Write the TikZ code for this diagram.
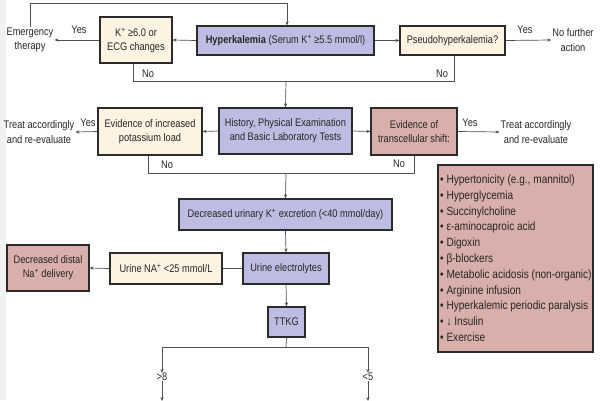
\documentclass[tikz,border=0pt]{standalone}
\usepackage{fontspec}
\setmainfont[FakeStretch=0.84]{Liberation Sans}
\newfontfamily\listfont[FakeStretch=0.84]{Liberation Sans}
\usetikzlibrary{arrows.meta}
\definecolor{bluebox}{HTML}{BDBDE3}
\definecolor{pinkbox}{HTML}{D9AFAB}
\definecolor{creambox}{HTML}{FCF3E3}
\definecolor{edge}{HTML}{2B2B2B}
\definecolor{conn}{HTML}{505050}
\tikzset{
  box/.style={draw=edge, line width=1.1pt, align=center, inner sep=1pt, font=\fontsize{11}{14}\selectfont, text=black!85},
  bluenode/.style={box, fill=bluebox},
  pinknode/.style={box, fill=pinkbox},
  creamnode/.style={box, fill=creambox},
  txt/.style={align=center, inner sep=1pt, font=\fontsize{11}{14.5}\selectfont, text=black!85},
  lbl/.style={inner sep=0pt, font=\fontsize{11}{13}\selectfont, text=black!85},
  itemtxt/.style={anchor=base west, inner sep=0pt, font=\listfont\fontsize{12}{15}\selectfont, text=black!85},
  arr/.style={draw=conn, line width=0.7pt, -{Stealth[length=4pt,width=3.2pt]}},
  ln/.style={draw=conn, line width=0.7pt}
}
\begin{document}
\begin{tikzpicture}[x=1pt,y=-1pt]
\useasboundingbox (0,0) rectangle (600,400);
\fill[black!5] (0,0) rectangle (6,400);
% row 1
\node[bluenode, minimum width=177pt, minimum height=29pt] (hyp) at (285.5,40.5) {\textbf{Hyperkalemia} (Serum K\textsuperscript{+} ≥5.5 mmol/l)};
\node[creamnode, minimum width=72pt, minimum height=46pt] (kecg) at (136,40) {K\textsuperscript{+} ≥6.0 or\\ECG changes};
\node[creamnode, minimum width=105pt, minimum height=29pt] (pseudo) at (452.5,40.5) {Pseudohyperkalemia?};
\node[txt] (emerg) at (30,40) {Emergency\\therapy};
\node[txt] (nofur) at (573,40) {No further\\action};
% row 2
\node[bluenode, minimum width=133pt, minimum height=46pt] (hist) at (285.5,131) {History, Physical Examination\\and Basic Laboratory Tests};
\node[creamnode, minimum width=104pt, minimum height=47pt] (kload) at (150,131.5) {Evidence of increased\\potassium load};
\node[pinknode, minimum width=86pt, minimum height=47pt] (trans) at (414,131.5) {Evidence of\\transcellular shift:};
\node[txt] (treatL) at (39,132) {Treat accordingly\\and re-evaluate};
\node[txt] (treatR) at (536,132) {Treat accordingly\\and re-evaluate};
% list
\node[pinknode, minimum width=155pt, minimum height=187pt] (list) at (515.5,258.5) {};
\foreach \t [count=\i] in {{Hypertonicity (e.g., mannitol)}, Hyperglycemia, Succinylcholine, ε-aminocaproic acid, Digoxin, β-blockers, Metabolic acidosis (non-organic), Arginine infusion, Hyperkalemic periodic paralysis, ↓ Insulin, Exercise}
  \node[itemtxt] (item\i) at (440,{183.5+15.8*(\i-1)}) {• \t};
% lower
\node[bluenode, minimum width=213pt, minimum height=31pt] (decr) at (285.5,214.5) {Decreased urinary K\textsuperscript{+} excretion (<40 mmol/day)};
\node[bluenode, minimum width=86pt, minimum height=31pt] (uelec) at (286,268.5) {Urine electrolytes};
\node[creamnode, minimum width=112pt, minimum height=31pt] (una) at (166,268.5) {Urine NA\textsuperscript{+} <25 mmol/L};
\node[pinknode, minimum width=82pt, minimum height=46pt] (dist) at (48,268) {Decreased distal\\Na\textsuperscript{+} delivery};
\node[bluenode, minimum width=37pt, minimum height=30pt] (ttkg) at (286.5,322) {TTKG};
\node[lbl] (gt8) at (162,377) {>8};
\node[lbl] (lt5) at (368,377) {<5};
% coordinates
\coordinate (top) at (0,3);
\coordinate (j1) at (286,81);
\coordinate (j2) at (286,173);
\coordinate (j3) at (286,347);
\coordinate (bl) at (162,401);
\coordinate (br) at (368,401);
% connectors row 1
\draw[arr] (emerg.north) -- (emerg.north |- top) -| ([xshift=1.5pt]hyp.north);
\draw[arr] (hyp.west) -- (kecg.east);
\draw[arr] (kecg.west) -- (emerg.east);
\draw[arr] (hyp.east) -- (pseudo.west);
\draw[arr] (pseudo.east) -- (nofur.west);
\draw[ln] ([xshift=-3pt]kecg.south) |- (j1);
\draw[ln] ([xshift=1.5pt]pseudo.south) |- (j1);
\draw[arr] (j1) -- (hist.north);
\node[lbl] (y1) at (79,30) {Yes};
\node[lbl] (n1) at (148,74) {No};
\node[lbl] (y2) at (525,30) {Yes};
\node[lbl] (n2) at (442,74) {No};
% row 2
\draw[arr] (hist.west) -- (kload.east);
\draw[arr] (kload.west) -- (treatL.east);
\draw[arr] (hist.east) -- (trans.west);
\draw[arr] (trans.east) -- (treatR.west);
\draw[ln] ([xshift=-2pt]kload.south) |- (j2);
\draw[ln] (trans.south) |- (j2);
\draw[arr] (j2) -- (decr.north);
\node[lbl] (y3) at (88,123) {Yes};
\node[lbl] (n3) at (167,165) {No};
\node[lbl] (y4) at (470,123) {Yes};
\node[lbl] (n4) at (399,164) {No};
% lower
\draw[arr] (decr.south) -- (uelec.north);
\draw[ln] (uelec.west) -- (una.east);
\draw[arr] (una.west) -- (dist.east);
\draw[arr] (uelec.south) -- (ttkg.north);
\draw[ln] (ttkg.south) -- (j3);
\draw[arr] (j3) -| (gt8.north);
\draw[arr] (j3) -| (lt5.north);
\draw[arr] (gt8.south) -- (bl);
\draw[arr] (lt5.south) -- (br);
\end{tikzpicture}
\end{document}
